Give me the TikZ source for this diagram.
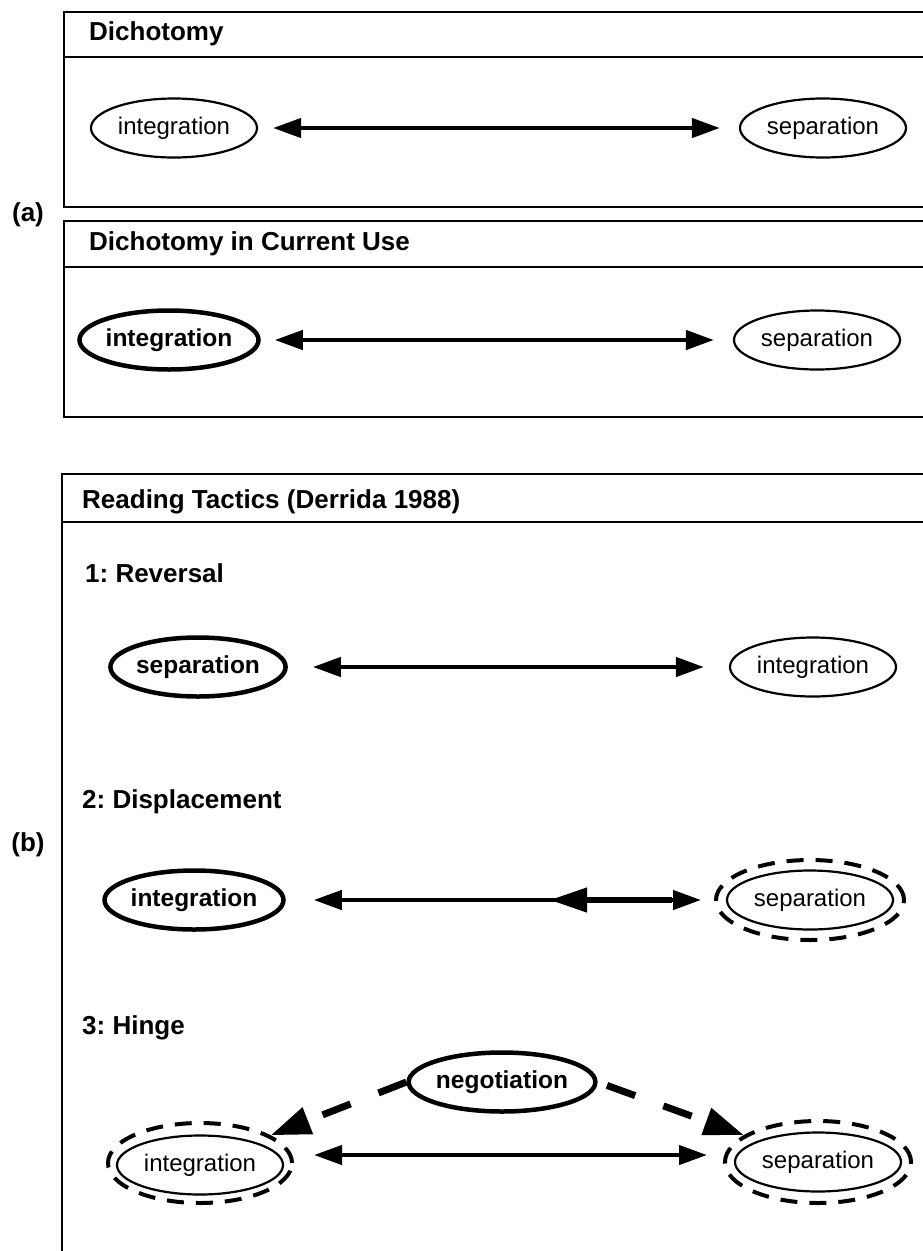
\documentclass[tikz,border=0pt]{standalone}
\usepackage{fontspec}
\setmainfont{Liberation Sans}
\usetikzlibrary{arrows.meta,shapes.geometric}
\frenchspacing
\begin{document}
\begin{tikzpicture}[x=1pt,y=-1pt,
  ell/.style={ellipse, draw, line width=2.2pt, minimum width=166pt, minimum height=59pt, inner sep=0pt, font=\fontsize{24}{28}\selectfont},
  bell/.style={ell, line width=4.5pt, font=\fontsize{24.5}{28}\selectfont\bfseries},
  oell/.style={ellipse, draw, line width=4pt, dash pattern=on 17pt off 12pt, minimum width=188pt, minimum height=80pt, inner sep=0pt},
  head/.style={anchor=west, inner sep=0pt, font=\fontsize{26}{30}\selectfont\bfseries},
  frame/.style={line width=2.6pt},
  arr/.style={line width=4.3pt, {Triangle[length=28pt,width=19pt]}-{Triangle[length=28pt,width=19pt]}},
  dasharr/.style={line width=7pt, dash pattern=on 30pt off 30pt, -{Triangle[length=40pt,width=27pt]}}
]
\clip (0,0) rectangle (923,1251);
\fill[white] (0,0) rectangle (923,1251);

% frames
\draw[frame] (64,12) rectangle (950,207);
\draw[frame] (64,57) -- (950,57);
\draw[frame] (64,221) rectangle (950,417);
\draw[frame] (64,267) -- (950,267);
\draw[frame] (62,474) rectangle (950,1290);
\draw[frame] (62,522) -- (950,522);

% labels
\node[head] (h1) at (89,34) {Dichotomy};
\node[head] (h2) at (89,244) {Dichotomy in Current Use};
\node[head] (h3) at (82,502) {Reading Tactics (Derrida 1988)};
\node[head] (t1) at (85,573) {1: Reversal};
\node[head] (t2) at (82,802) {2: Displacement};
\node[head] (t3) at (82,1028) {3: Hinge};
\node[head, anchor=center] (la) at (28,215) {(a)};
\node[head, anchor=center] (lb) at (28,845) {(b)};

% Dichotomy
\node[ell] (i1) at (174,128) {integration};
\node[ell] (s1) at (823,128) {separation};
\draw[arr, shorten <=15pt, shorten >=19pt] (i1) -- (s1);

% Dichotomy in current use
\node[bell] (i2) at (169,340) {integration};
\node[ell] (s2) at (817,340) {separation};
\draw[arr, shorten <=14pt, shorten >=19pt] (i2) -- (s2);

% Reversal
\node[bell] (s3) at (198,667) {separation};
\node[ell] (i3) at (813,667) {integration};
\draw[arr, shorten <=25pt, shorten >=25pt] (s3) -- (i3);

% Displacement
\node[bell] (i4) at (194,900) {integration};
\node[ell] (s4) at (810,900) {separation};
\node[oell] (s4o) at (810,900) {};
\draw[arr, shorten <=28pt, shorten >=13pt] (i4) -- (s4o);
\coordinate (ta) at (587,900);
\coordinate (tb) at (672,900);
\draw[line width=5.5pt] (ta) -- (tb);
\coordinate (mb) at (600,900);
\coordinate (mt) at (550,900);
\draw[line width=4.3pt, -{Triangle[length=37pt,width=24pt]}] (mb) -- (mt);

% Hinge
\node[bell] (neg) at (502,1082) {negotiation};
\node[ell] (i5) at (200,1165) {integration};
\node[oell, minimum width=184pt] (i5o) at (200,1163) {};
\node[ell] (s5) at (818,1162) {separation};
\node[oell, minimum width=186pt, minimum height=82pt] (s5o) at (818,1162) {};
\draw[arr, shorten <=20pt, shorten >=16pt] ([yshift=8pt]i5o.east) -- ([yshift=7pt]s5o.west);
\draw[dasharr] (neg.west) -- (i5o);
\draw[dasharr, shorten <=10pt] (neg.east) -- (s5o);
\end{tikzpicture}
\end{document}
